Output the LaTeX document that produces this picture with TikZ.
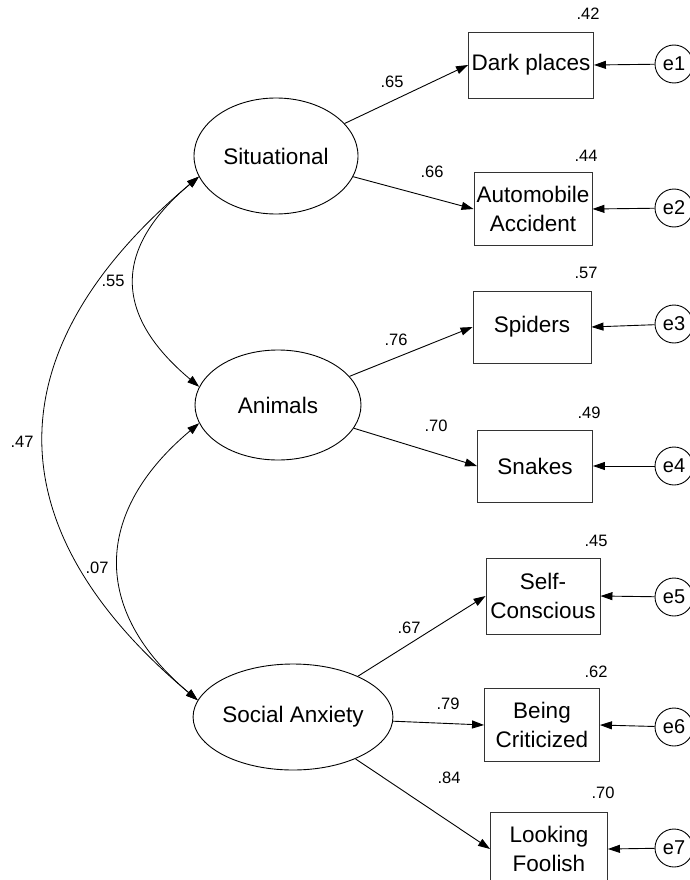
\documentclass[tikz,border=0pt]{standalone}
\usepackage{fontspec}
\setmainfont{Liberation Sans}
\usetikzlibrary{arrows.meta,shapes.geometric}

\tikzset{
  latent/.style={draw, ellipse, inner sep=0pt, line width=0.9pt,
    font=\fontsize{22.5}{26}\selectfont},
  indicator/.style={draw=black!80, rectangle, inner sep=0pt, line width=0.9pt,
    align=center, font=\fontsize{22.5}{28.5}\selectfont},
  errterm/.style={draw, circle, minimum size=38pt, inner sep=0pt, line width=0.9pt,
    font=\fontsize{20}{22}\selectfont},
  coef/.style={font=\fontsize{16.5}{18}\selectfont},
  loading/.style={-{Triangle[length=12pt,width=8pt]}, line width=0.9pt},
  covar/.style={{Triangle[length=12pt,width=8pt]}-{Triangle[length=12pt,width=8pt]},
    line width=0.8pt},
}

\begin{document}
\begin{tikzpicture}[x=1pt,y=-1pt]
    \useasboundingbox (0,0) rectangle (690,880);
    \clip (0,0) rectangle (690,880);

    % factors
    \node[latent, minimum width=164pt, minimum height=116pt] (sit) at (276,156) {Situational};
    \node[latent, minimum width=166pt, minimum height=110pt] (ani) at (278,405) {Animals};
    \node[latent, minimum width=174pt, minimum height=106pt] (soc) at (293,717) {Social Anxiety};

    % observed items and their errors
    \foreach \name/\x/\y/\w/\h/\txt in {
        dark/531/65/125/66/Dark places,
        auto/533/209/118/73/Automobile\\Accident,
        spid/532/327/118/72/Spiders,
        snak/535/466/115/72/Snakes,
        self/543/596/114/76/Self-\\Conscious,
        crit/542/725/115/73/Being\\Criticized,
        fool/549/849/117/74/Looking\\Foolish} {
        \node[indicator, minimum width=\w pt, minimum height=\h pt] (\name) at (\x,\y) {\txt};
    }
    \foreach \i/\y in {1/64,2/208,3/324,4/466,5/597,6/727,7/848} {
        \node[errterm] (e\i) at (674,\y) {e\i};
    }
    \foreach \e/\b in {e1/dark,e2/auto,e3/spid,e4/snak,e5/self,e6/crit,e7/fool} {
        \draw[loading] (\e) -- (\b.east);
    }

    % loadings
    \draw[loading] (sit) -- (dark.west);
    \draw[loading] (sit) -- (auto.west);
    \draw[loading] (ani) -- (spid.west);
    \draw[loading] (ani) -- (snak.west);
    \draw[loading] (soc) -- (self.west);
    \draw[loading] (soc) -- (crit.west);
    \draw[loading] (soc) -- (fool.west);

    % correlations
    \draw[covar] (sit.195) to[out=220,in=140,looseness=1.37] (ani.167);
    \draw[covar] (sit.195) to[out=220,in=140,looseness=1.31] (soc.170);
    \draw[covar] (ani.193) to[out=220,in=140,looseness=1.28] (soc.170);

    % coefficients
    \foreach \name/\x/\y/\txt in {
        r1/588/14/.42, r2/586/156/.44, r3/586/273/.57, r4/589/413/.49,
        r5/596/541/.45, r6/596/672/.62, r7/603/793/.70,
        w1/392/82/.65, w2/432/172/.66, w3/396/340/.76, w4/436/426/.70,
        w5/409/628/.67, w6/448/704/.79, w7/449/778/.84,
        c1/113/281/.55, c2/22/442/.47, c3/97/568/.07} {
        \node[coef] (\name) at (\x,\y) {\txt};
    }
\end{tikzpicture}
\end{document}
